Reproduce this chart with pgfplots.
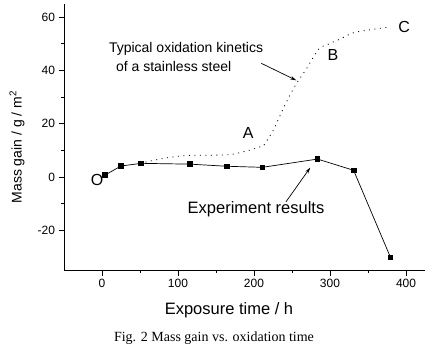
\documentclass[border=0pt]{standalone}
\usepackage{fontspec}
\setmainfont{Liberation Sans}
\newfontfamily\capfont{Liberation Serif}
\usepackage{pgfplots}
\pgfplotsset{compat=1.18}
\usetikzlibrary{arrows.meta}
\begin{document}
\begin{tikzpicture}[x=1bp,y=1bp]
\useasboundingbox (0,0) rectangle (444,348);
\begin{axis}[
  at={(64bp,78bp)}, anchor=south west,
  scale only axis, width=361bp, height=266bp,
  xmin=-50, xmax=425, ymin=-35, ymax=65,
  axis x line*=bottom, axis y line*=left,
  axis line style={-, line width=0.8bp},
  tick align=outside,
  major tick length=5.5bp, minor tick length=3bp,
  xtick={0,100,...,400}, ytick={-20,0,...,60},
  minor x tick num=1, minor y tick num=1,
  every tick/.style={black, line width=0.8bp},
  ticklabel style={font=\fontsize{12bp}{14bp}\selectfont},
  /pgf/number format/assume math mode=true,
  xlabel={Exposure time / h},
  ylabel={Mass gain / g / m\textsuperscript{2}},
  xlabel style={at={(axis description cs:0.457,-0.150)}, anchor=center, font=\fontsize{16.5bp}{19bp}\selectfont},
  ylabel style={at={(axis description cs:-0.130,0.462)}, anchor=center, font=\fontsize{14bp}{16bp}\selectfont},
  clip=false,
]
\addplot[black, line width=0.8bp, dash pattern=on 1bp off 4.5bp, smooth] coordinates {
 (50,5.1) (64,6) (88,7.3) (116,8.1) (165,8.3) (191,9.8) (210,11.5) (213,11.9)
 (226,17.9) (239,26) (254,34.2) (270,41.1) (285,48) (298,49.9) (313,51.8)
 (331,54.2) (355,55.4) (379,56.4)};
\addplot[black, line width=0.7bp, mark=square*, mark size=2.3bp] coordinates {
 (4,0.7) (25,4.1) (51.5,5.1) (115.5,4.8) (164,4) (211,3.6) (283.5,6.7) (331,2.5) (379.5,-30.2)};
\node[font=\fontsize{14bp}{16bp}\selectfont] at (axis cs:110.6,48.2) {Typical oxidation kinetics};
\node[font=\fontsize{14bp}{16bp}\selectfont] at (axis cs:94.3,41.6) {of a stainless steel};
\node[font=\fontsize{16.5bp}{19bp}\selectfont] at (axis cs:202.6,-12.1) {Experiment results};
\node[font=\fontsize{16bp}{18bp}\selectfont] at (axis cs:192.5,16.5) {A};
\node[font=\fontsize{16bp}{18bp}\selectfont] at (axis cs:304,46) {B};
\node[font=\fontsize{16bp}{18bp}\selectfont] at (axis cs:397.5,56.5) {C};
\node[font=\fontsize{16bp}{18bp}\selectfont] at (axis cs:-6.3,-1.2) {O};
\draw[line width=0.7bp, -{Stealth[length=6bp,width=3.5bp]}] (axis cs:209.6,42.7) -- (axis cs:255.6,36.3);
\draw[line width=0.7bp, -{Stealth[length=6bp,width=3.5bp]}] (axis cs:242,-9.4) -- (axis cs:274,3.5);
\end{axis}
\node[font=\capfont\fontsize{14bp}{16bp}\selectfont] at (214,10) {Fig. 2 Mass gain vs. oxidation time};
\end{tikzpicture}
\end{document}
